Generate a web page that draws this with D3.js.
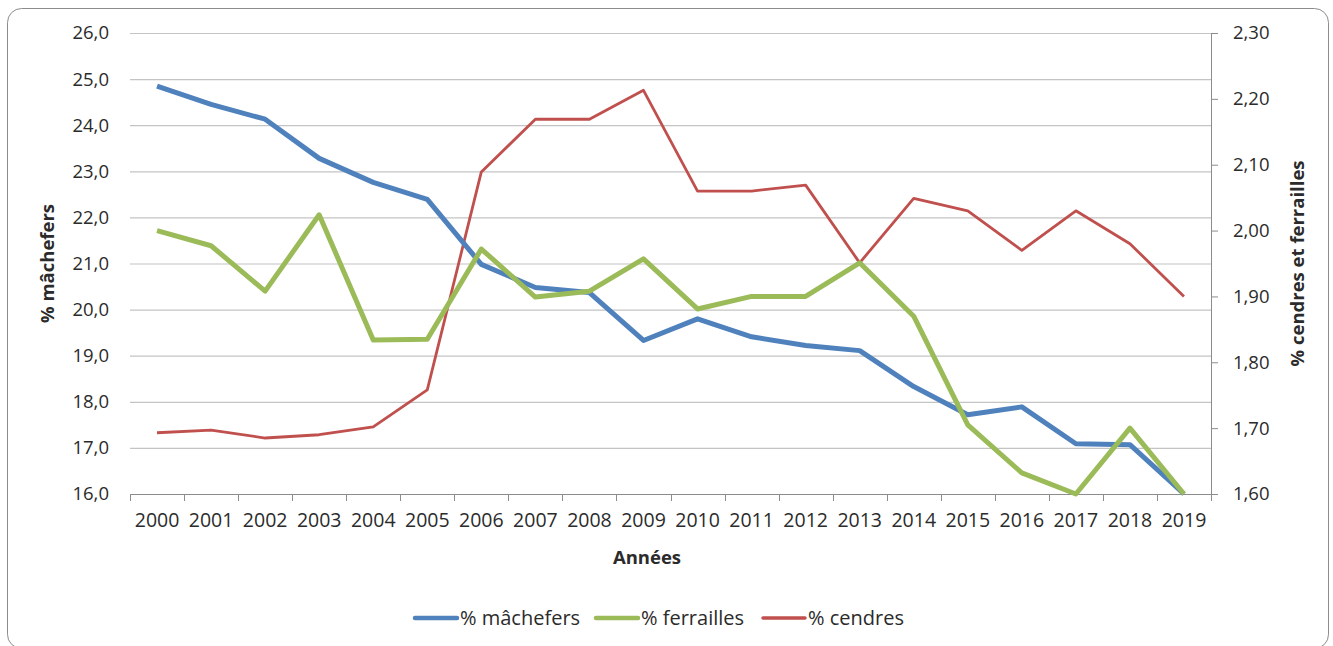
<!DOCTYPE html>
<html><head><meta charset="utf-8">
<script src="https://cdn.jsdelivr.net/npm/d3@7"></script>
<style>
html,body{margin:0;padding:0;background:#fff;}
svg{display:block;font-family:"Open Sans","Noto Sans",sans-serif;}
</style></head>
<body>
<svg id="chart" width="1333" height="646"></svg>
<script>
const years = ["2000","2001","2002","2003","2004","2005","2006","2007","2008","2009","2010","2011","2012","2013","2014","2015","2016","2017","2018","2019"];
const machefers = [24.85,24.45,24.13,23.28,22.76,22.39,20.98,20.48,20.37,19.33,19.80,19.41,19.22,19.11,18.33,17.72,17.89,17.09,17.07,16.00];
const ferrailles = [2.00,1.977,1.908,2.024,1.834,1.835,1.972,1.899,1.908,1.957,1.881,1.90,1.90,1.951,1.870,1.705,1.632,1.60,1.70,1.60];
const cendres = [1.693,1.697,1.685,1.690,1.702,1.758,2.089,2.169,2.169,2.213,2.060,2.060,2.069,1.951,2.049,2.030,1.970,2.030,1.980,1.900];
const leftTicks = [16,17,18,19,20,21,22,23,24,25,26];
const rightTicks = [1.6,1.7,1.8,1.9,2.0,2.1,2.2,2.3];
const seriesNames = ["% mâchefers","% ferrailles","% cendres"];
const colors = ["#4F81BD","#9BBB59","#C0504D"];

const svg = d3.select("#chart");
const L = 130, R = 1211, T = 33, B = 494;
const textColor = "#2b2b2b";

// frame
svg.append("rect").attr("x",7.5).attr("y",8.5).attr("width",1321).attr("height",640)
  .attr("rx",14).attr("fill","#fff").attr("stroke","#8c8c8c").attr("stroke-width",1);

const x = d3.scaleBand().domain(years).range([L,R]).padding(0);
const cx = d => x(d) + x.bandwidth()/2;
const yL = d3.scaleLinear().domain([16,26]).range([B,T]);
const yR = d3.scaleLinear().domain([1.6,2.3]).range([B,T]);

// gridlines
svg.append("g").selectAll("line").data(leftTicks.filter(d=>d>16)).join("line")
  .attr("x1",L).attr("x2",R).attr("y1",d=>yL(d)+0.5).attr("y2",d=>yL(d)+0.5)
  .attr("stroke","#c4c4c4").attr("stroke-width",1.2);

// left axis labels
const fmt1 = d => d3.format(".1f")(d).replace(".",",");
const fmt2 = d => d3.format(".2f")(d).replace(".",",");
const gl = svg.append("g").attr("transform",`translate(${L},0)`)
  .call(d3.axisLeft(yL).tickValues(leftTicks).tickSize(0).tickPadding(21).tickFormat(fmt1));
gl.select(".domain").remove();
gl.selectAll("text").attr("font-size",18.5).attr("fill",textColor).attr("font-family","Open Sans");

// right axis
const gr = svg.append("g").attr("transform",`translate(${R},0)`)
  .call(d3.axisRight(yR).tickValues(rightTicks).tickSize(7).tickPadding(15).tickFormat(fmt2));
gr.select(".domain").attr("stroke","#8c8c8c").attr("d",`M0.5,${T}V${B}`);
gr.selectAll(".tick line").attr("stroke","#8c8c8c");
gr.selectAll("text").attr("font-size",18.5).attr("fill",textColor).attr("font-family","Open Sans");

// bottom axis
const gb = svg.append("g").attr("transform",`translate(0,${B})`)
  .call(d3.axisBottom(x).tickSize(0).tickPadding(19));
gb.select(".domain").remove();
gb.selectAll("text").attr("font-size",19.5).attr("fill",textColor).attr("font-family","Open Sans");
const edges = years.map(d=>x(d)).concat([x(years[years.length-1])+x.bandwidth()]);
svg.append("line").attr("x1",L).attr("x2",R).attr("y1",B+0.5).attr("y2",B+0.5).attr("stroke","#8c8c8c");
svg.append("g").selectAll("line").data(edges).join("line")
  .attr("x1",d=>Math.round(d)+0.5).attr("x2",d=>Math.round(d)+0.5).attr("y1",B).attr("y2",B+7)
  .attr("stroke","#8c8c8c");

// lines
const lineL = d3.line().x((d,i)=>cx(years[i])).y(d=>yL(d));
const lineR = d3.line().x((d,i)=>cx(years[i])).y(d=>yR(d));
svg.append("path").datum(cendres).attr("d",lineR).attr("fill","none")
  .attr("stroke",colors[2]).attr("stroke-width",2.8).attr("stroke-linejoin","round");
svg.append("path").datum(machefers).attr("d",lineL).attr("fill","none")
  .attr("stroke",colors[0]).attr("stroke-width",5).attr("stroke-linejoin","round");
svg.append("path").datum(ferrailles).attr("d",lineR).attr("fill","none")
  .attr("stroke",colors[1]).attr("stroke-width",5).attr("stroke-linejoin","round");

// axis titles
svg.append("text").attr("x",647).attr("y",564).attr("text-anchor","middle")
  .attr("font-size",18.5).attr("font-weight","bold").attr("fill",textColor).text("Années");
svg.append("text").attr("transform",`translate(54,${(T+B)/2}) rotate(-90)`).attr("text-anchor","middle")
  .attr("font-size",18.5).attr("font-weight","bold").attr("fill",textColor).text("% mâchefers");
svg.append("text").attr("transform",`translate(1304,${(T+B)/2}) rotate(-90)`).attr("text-anchor","middle")
  .attr("font-size",18.5).attr("font-weight","bold").attr("fill",textColor).text("% cendres et ferrailles");

// legend
const legX = [415,596,763];
const lg = svg.append("g");
seriesNames.forEach((n,i)=>{
  lg.append("line").attr("x1",legX[i]).attr("x2",legX[i]+42).attr("y1",618).attr("y2",618)
    .attr("stroke",colors[i]).attr("stroke-width",i===2?3.5:4.5).attr("stroke-linecap","round");
  lg.append("text").attr("x",legX[i]+45).attr("y",618).attr("dy","0.35em")
    .attr("font-size",20).attr("fill",textColor).text(n);
});
</script>
</body></html>
